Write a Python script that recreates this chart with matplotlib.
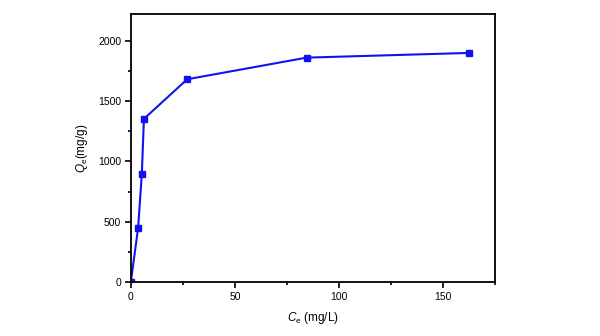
import numpy as np
import matplotlib.pyplot as plt
from matplotlib.ticker import MultipleLocator

plt.rcParams['font.family'] = ['Liberation Sans', 'DejaVu Sans']
plt.rcParams['mathtext.fontset'] = 'custom'
plt.rcParams['mathtext.rm'] = 'Liberation Sans'
plt.rcParams['mathtext.it'] = 'Liberation Sans:italic'

# equilibrium data
ce = [0, 3.5, 5.3, 6.3, 27.1, 84.5, 162.5]     # mg/L
qe = [0, 447, 897, 1352, 1680, 1859, 1898]     # mg/g

fig = plt.figure(figsize=(6, 3.36), dpi=100)
ax = fig.add_axes([0.218, 0.160, 0.607, 0.799])

ax.plot(ce, qe, color='#1212f0', lw=1.5, marker='s', ms=5, mec='#1212f0')

ax.set_xlim(0, 175)
ax.set_ylim(0, 2222)
ax.xaxis.set_major_locator(MultipleLocator(50))
ax.xaxis.set_minor_locator(MultipleLocator(25))
ax.yaxis.set_major_locator(MultipleLocator(500))
ax.yaxis.set_minor_locator(MultipleLocator(250))

for s in ax.spines.values():
    s.set_linewidth(1.3)
ax.tick_params(which='major', direction='out', length=4, width=1.2, labelsize=7.5, pad=3)
ax.tick_params(which='minor', direction='out', length=2.5, width=1.2)

ax.set_xlabel(r'$C_{\mathregular{e}}$ (mg/L)', fontsize=8.5, labelpad=6)
ax.set_ylabel(r'$Q_{\mathregular{e}}$(mg/g)', fontsize=8.5, labelpad=6)

plt.savefig('out.png', dpi=100)
